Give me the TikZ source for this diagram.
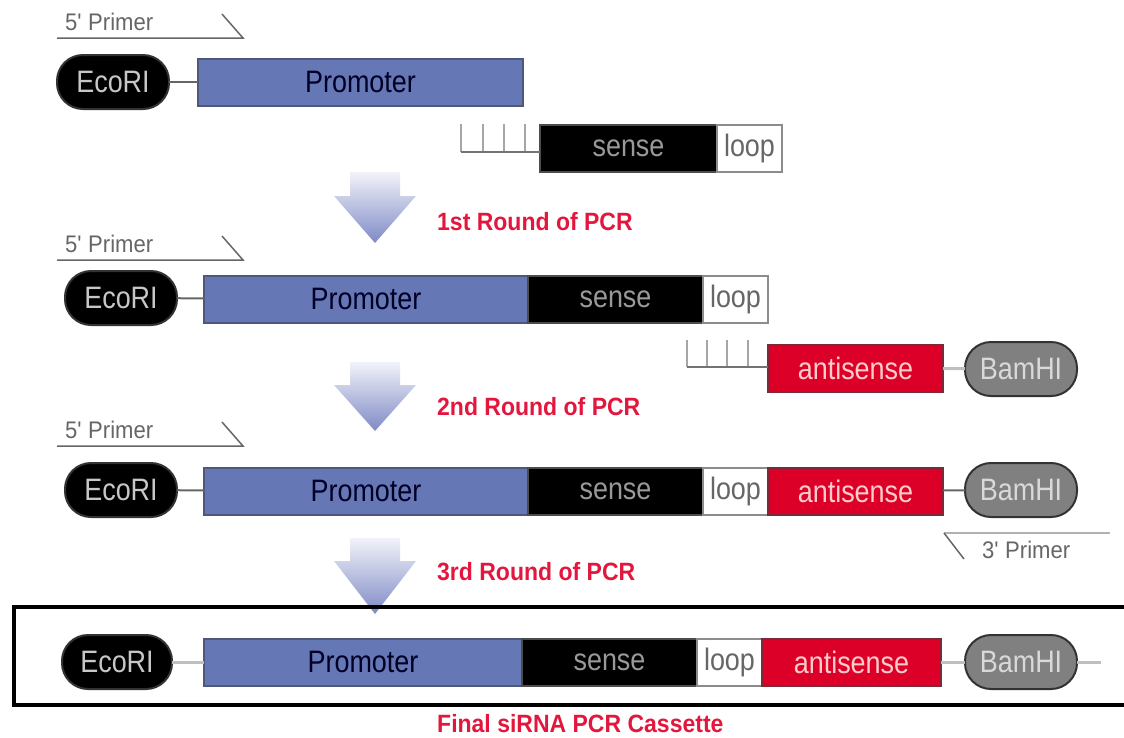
\documentclass[tikz,border=0pt]{standalone}
\usepackage{fontspec}
\setmainfont{Liberation Sans}
\newfontfamily\narrowfont{Liberation Sans}[FakeStretch=0.87]
\newfontfamily\labelfont{Liberation Sans}[FakeStretch=0.92]
\newfontfamily\primerfont{Liberation Sans}[FakeStretch=0.92]
\definecolor{promblue}{HTML}{6677B5}
\definecolor{promline}{HTML}{50587A}
\definecolor{antired}{HTML}{DC0028}
\definecolor{antiline}{HTML}{7A2A38}
\definecolor{labred}{HTML}{E3173E}
\definecolor{arrtop}{HTML}{F2F3F9}
\definecolor{arrbot}{HTML}{7F8AC6}
\begin{document}
\begin{tikzpicture}[x=1pt,y=-1pt,
  box/.style={rectangle, inner sep=0pt, outer sep=0pt, minimum height=47pt, line width=2pt, font=\narrowfont\fontsize{31}{34}\selectfont},
  pill/.style={rectangle, rounded corners=26pt, inner sep=0pt, outer sep=0pt, minimum width=112pt, minimum height=54pt, line width=2pt, font=\narrowfont\fontsize{31}{34}\selectfont},
  ecori/.style={pill, fill=black, draw=black!80, text=black!22},
  bam/.style={pill, fill=black!50, draw=black!80, text=black!15},
  prom/.style={box, fill=promblue, draw=promline, text=black!85!blue},
  sensebox/.style={box, fill=black, draw=black!70, text=black!40},
  loopbox/.style={box, fill=white, draw=black!45, text=black!60, minimum width=65pt},
  anti/.style={box, fill=antired, draw=antiline, text=red!20!white},
  link/.style={draw=black!60, line width=2pt},
  lightlink/.style={draw=black!25, line width=3pt},
  ladder/.style={draw=black!55, line width=1.5pt},
  tick/.style={draw=black!35, line width=2pt},
  primer/.style={draw=black!60, line width=1.5pt},
  primertext/.style={inner sep=0pt, anchor=base west, text=black!60, font=\primerfont\fontsize{24}{28}\selectfont},
  redlabel/.style={inner sep=0pt, anchor=west, text=labred, font=\labelfont\fontsize{25}{29}\selectfont\bfseries},
  pcrarrow/.style={top color=arrtop, bottom color=arrbot, draw=none}
]
\useasboundingbox (0,0) rectangle (1124,737);

% ---------- Row 1 ----------
\node[primertext] (t1) at (65,30) {5\textquotesingle{} Primer};
\coordinate (u1a) at (57,38);
\coordinate (u1b) at (243,38);
\coordinate (u1c) at (222,14);
\draw[primer] (u1a) -- (u1b) -- (u1c);
\node[ecori] (e1) at (113,82) {EcoRI};
\node[prom, anchor=west, minimum width=325pt] (p1) at (198,82) {Promoter};
\draw[link] (e1) -- (p1);
\node[sensebox, anchor=west, minimum width=177pt] (s1) at (540,148) {sense};
\node[loopbox, anchor=west] (l1) at (s1.east) {loop};
\coordinate (ld1) at (461,152);
\foreach \x in {461,483,504,525} \draw[tick] (\x,124) -- (\x,152);
\draw[ladder] (ld1) -- (s1.west |- ld1);

% arrow 1
\shade[pcrarrow] (350,172) -- (400,172) -- (400,196) -- (416,196) -- (375,243) -- (334,196) -- (350,196) -- cycle;
\node[redlabel] (r1) at (437,222) {1st Round of PCR};

% ---------- Row 2 ----------
\node[primertext] (t2) at (65,252) {5\textquotesingle{} Primer};
\coordinate (u2a) at (57,260);
\coordinate (u2b) at (243,260);
\coordinate (u2c) at (222,236);
\draw[primer] (u2a) -- (u2b) -- (u2c);
\node[ecori] (e2) at (121,298) {EcoRI};
\node[prom, anchor=west, minimum width=324pt] (p2) at (204,299) {Promoter};
\node[sensebox, anchor=west, minimum width=175pt] (s2) at (p2.east) {sense};
\node[loopbox, anchor=west] (l2) at (s2.east) {loop};
\draw[link] (e2) -- (p2);
\node[anti, anchor=west, minimum width=175pt] (a2) at (768,368) {antisense};
\node[bam] (b2) at (1021,369) {BamHI};
\draw[lightlink] (a2) -- (b2);
\coordinate (ld2) at (687,367);
\foreach \x in {687,707,727,748} \draw[tick] (\x,340) -- (\x,367);
\draw[ladder] (ld2) -- (a2.west |- ld2);

% arrow 2
\shade[pcrarrow] (350,362) -- (400,362) -- (400,385) -- (416,385) -- (375,431) -- (334,385) -- (350,385) -- cycle;
\node[redlabel] (r2) at (437,407) {2nd Round of PCR};

% ---------- Row 3 ----------
\node[primertext] (t3) at (65,438) {5\textquotesingle{} Primer};
\coordinate (u3a) at (57,446);
\coordinate (u3b) at (243,446);
\coordinate (u3c) at (222,422);
\draw[primer] (u3a) -- (u3b) -- (u3c);
\node[ecori] (e3) at (121,490) {EcoRI};
\node[prom, anchor=west, minimum width=324pt] (p3) at (204,491) {Promoter};
\node[sensebox, anchor=west, minimum width=175pt] (s3) at (p3.east) {sense};
\node[loopbox, anchor=west] (l3) at (s3.east) {loop};
\node[anti, anchor=west, minimum width=175pt] (a3) at (l3.east) {antisense};
\node[bam] (b3) at (1021,490) {BamHI};
\draw[link] (e3) -- (p3);
\draw[link] (a3) -- (b3);
\coordinate (v3a) at (1110,533);
\coordinate (v3b) at (944,533);
\coordinate (v3c) at (964,559);
\draw[primer, draw=black!30, line width=2.5pt] (v3a) -- (v3b);
\draw[primer] (v3b) -- (v3c);
\node[primertext] (t4) at (982,558) {3\textquotesingle{} Primer};

% arrow 3
\shade[pcrarrow] (350,538) -- (400,538) -- (400,561) -- (416,561) -- (375,614) -- (334,561) -- (350,561) -- cycle;
\node[redlabel] (r3) at (437,572) {3rd Round of PCR};

% ---------- Final cassette ----------
\draw[line width=4pt] (1130,607) -- (14,607) -- (14,705) -- (1130,705);
\node[ecori, minimum width=110pt] (e4) at (117,662) {EcoRI};
\node[prom, anchor=west, minimum width=318pt] (p4) at (204,662) {Promoter};
\node[sensebox, anchor=west, minimum width=175pt] (s4) at (p4.east) {sense};
\node[loopbox, anchor=west] (l4) at (s4.east) {loop};
\node[anti, anchor=west, minimum width=179pt] (a4) at (l4.east) {antisense};
\node[bam] (b4) at (1021,662) {BamHI};
\coordinate (end4) at (1101,662);
\draw[lightlink] (e4) -- (p4);
\draw[lightlink] (a4) -- (b4);
\draw[lightlink] (b4) -- (end4);
\node[redlabel] (r4) at (437,724) {Final siRNA PCR Cassette};
\end{tikzpicture}
\end{document}
